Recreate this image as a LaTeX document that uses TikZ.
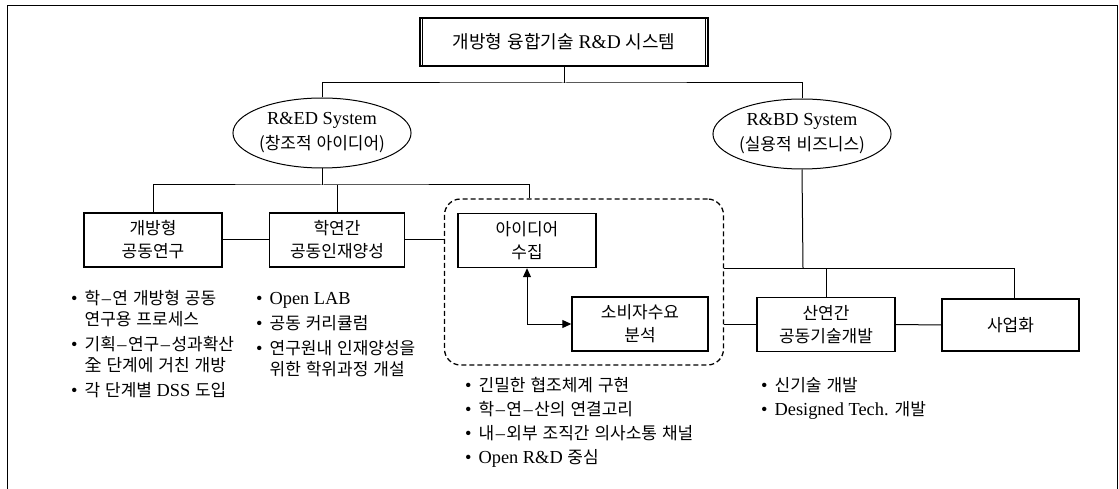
\documentclass[tikz,border=0pt]{standalone}
\usepackage{fontspec}
\setmainfont{Liberation Serif}[Scale=1.08]
\newfontfamily\kr{Noto Sans CJK KR}[WordSpace=1.3]
\newcommand\hgl[1]{{\kr #1}}
\newcommand\krdash{\kern1.5pt{\rmfamily –}\kern1.5pt}
\usetikzlibrary{shapes.geometric,arrows.meta}
\begin{document}
\begin{tikzpicture}[x=1pt,y=-1pt,
  base/.style={font=\fontsize{17}{23}\selectfont, align=center, inner sep=0pt},
  box/.style={base, draw, line width=1.4pt, minimum width=138pt, minimum height=54pt},
  ell/.style={base, font=\fontsize{17}{25}\selectfont, draw, ellipse, line width=1pt, minimum width=174pt, minimum height=70pt},
  conn/.style={line width=1pt},
  grpbox/.style={draw, dashed, dash pattern=on 5pt off 3pt, line width=1.3pt, rounded corners=16pt, minimum width=279pt, minimum height=166pt, inner sep=0pt},
  list/.style={anchor=north west, inner sep=0pt, font=\fontsize{17}{21}\selectfont}
]
\useasboundingbox (0,0) rectangle (1119,489);
\draw[line width=1pt] (7,489) -- (7,6) -- (1117,6) -- (1117,489);

% title
\node[box, minimum width=288pt, minimum height=48pt, font=\fontsize{18}{20}\selectfont] (title) at (564,42) {\hgl{개방형 융합기술} R\&D \hgl{시스템}};
\draw[line width=1pt] ([xshift=3pt]title.north west) -- ([xshift=3pt]title.south west);
\draw[line width=1pt] ([xshift=-3pt]title.north east) -- ([xshift=-3pt]title.south east);

% ellipses
\node[ell] (red) at (322,133) {R\&ED System\\\hgl{(창조적 아이디어)}};
\node[ell] (rbd) at (802,134) {R\&BD System\\\hgl{(실용적 비즈니스)}};
\coordinate (j1) at (564,83);
\draw[conn] (title.south) -- (j1);
\draw[conn] (red.north) |- (j1) -| (rbd.north);

% left level
\node[box] (b1) at (153,240) {\hgl{개방형}\\\hgl{공동연구}};
\node[box, minimum width=135pt] (b2) at (337,240) {\hgl{학연간}\\\hgl{공동인재양성}};
\node[grpbox] (grp) at (584,282) {};
\node[box] (n1) at (527,240.5) {\hgl{아이디어}\\\hgl{수집}};
\node[box, minimum width=136pt] (n2) at (640,324) {\hgl{소비자수요}\\\hgl{분석}};
\coordinate (j2) at (322,185);
\draw[conn] (red.south) -- (j2);
\draw[conn] (b1.north) |- (j2) -| ([xshift=-55pt]grp.north);
\draw[conn] (b2.north) -- (b2.north |- j2);
\draw[conn] (b1.east) -- (b2.west);
\draw[conn] (b2.east) -- (b2.east -| grp.west);
\draw[conn, {Triangle[length=9pt,width=8pt]}-{Triangle[length=9pt,width=8pt]}] (n1.south) |- (n2.west);

% right level
\node[box] (dev) at (826,324.5) {\hgl{산연간}\\\hgl{공동기술개발}};
\node[box, minimum width=137pt, minimum height=52pt] (biz) at (1010.5,325) {\hgl{사업화}};
\coordinate (j3) at (803,268);
\draw[conn] (rbd.south) -- (j3);
\draw[conn] (grp.east |- j3) -| ([xshift=4pt]biz.north);
\draw[conn] (dev.north) -- (dev.north |- j3);
\draw[conn] (dev.east) -- (biz.west);
\draw[conn] (grp.east |- dev.west) -- (dev.west);

% bullet lists
\node[list] (l1) at (71,290) {\begin{tabular}{@{}l@{\hspace{7pt}}l@{}}
•&\hgl{학\krdash 연 개방형 공동}\\
 &\hgl{연구용 프로세스}\\[4pt]
•&\hgl{기획\krdash 연구\krdash 성과확산}\\
 &\hgl{全 단계에 거친 개방}\\[4pt]
•&\hgl{각 단계별} DSS \hgl{도입}
\end{tabular}};
\node[list] (l2) at (256,290) {\begin{tabular}{@{}l@{\hspace{7pt}}l@{}}
•&Open LAB\\[4pt]
•&\hgl{공동 커리큘럼}\\[4pt]
•&\hgl{연구원내 인재양성을}\\
 &\hgl{위한 학위과정 개설}
\end{tabular}};
\node[list] (l3) at (465,377) {\begin{tabular}{@{}l@{\hspace{7pt}}l@{}}
•&\hgl{긴밀한 협조체계 구현}\\[3pt]
•&\hgl{학\krdash 연\krdash 산의 연결고리}\\[3pt]
•&\hgl{내\krdash 외부 조직간 의사소통 채널}\\[3pt]
•&Open R\&D \hgl{중심}
\end{tabular}};
\node[list] (l4) at (761,377) {\begin{tabular}{@{}l@{\hspace{7pt}}l@{}}
•&\hgl{신기술 개발}\\[3pt]
•&Designed Tech. \hgl{개발}
\end{tabular}};
\end{tikzpicture}
\end{document}
